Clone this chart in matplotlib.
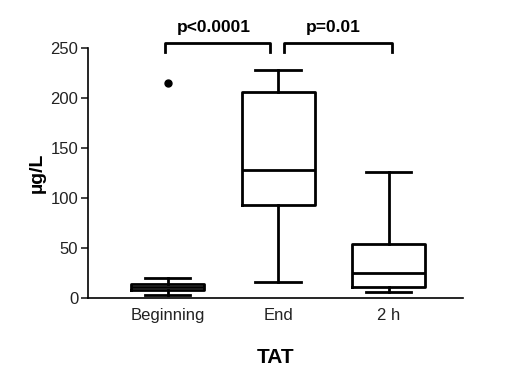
import matplotlib
matplotlib.use("Agg")
import matplotlib.pyplot as plt

plt.rcParams['font.family'] = ['Liberation Sans', 'DejaVu Sans']

groups = ["Beginning", "End", "2 h"]
whislo = [3, 16, 6]
q1 = [8, 93, 11]
med = [11, 128, 25]
q3 = [14, 206, 54]
whishi = [20, 228, 126]
fliers = [[215], [], []]

# comparisons: (left group, right group, label)
pairs = [(0, 1, "p<0.0001"), (1, 2, "p=0.01")]

stats = []
for i, g in enumerate(groups):
    stats.append(dict(label=g, whislo=whislo[i], q1=q1[i], med=med[i],
                      q3=q3[i], whishi=whishi[i], fliers=fliers[i]))

fig = plt.figure(figsize=(5.2, 3.85), dpi=100)
ax = fig.add_axes([0.169, 0.226, 0.721, 0.649])

lw = 2.0
ax.bxp(stats, positions=range(len(groups)), widths=0.66,
       boxprops=dict(color='black', linewidth=lw),
       medianprops=dict(color='black', linewidth=lw),
       whiskerprops=dict(color='black', linewidth=lw),
       capprops=dict(color='black', linewidth=lw),
       capwidths=0.41,
       flierprops=dict(marker='o', markerfacecolor='black',
                       markeredgecolor='black', markersize=5))

ax.set_xlim(-0.72, 2.67)
ax.set_ylim(0, 250)
ax.set_yticks([0, 50, 100, 150, 200, 250])
ax.set_xticks(range(len(groups)))
ax.set_xticklabels(groups)
ax.tick_params(axis='x', length=0, pad=7, labelsize=12, colors='#222222')
ax.tick_params(axis='y', length=5, width=1.2, pad=2, labelsize=12, colors='#222222')
for s in ['top', 'right']:
    ax.spines[s].set_visible(False)
for s in ['left', 'bottom']:
    ax.spines[s].set_linewidth(1.2)

ax.set_ylabel("µg/L", fontsize=14, fontweight='bold', labelpad=3)
ax.set_xlabel("TAT", fontsize=15, fontweight='bold', labelpad=18)

# significance brackets
offs = [(-0.02, -0.07), (0.05, 0.03)]
for (a, b, lab), (oa, ob) in zip(pairs, offs):
    x0, x1 = a + oa, b + ob
    ax.plot([x0, x0, x1, x1], [246, 255, 255, 246], color='black',
            linewidth=lw, clip_on=False)
    ax.text((x0 + x1) / 2 - 0.04, 263, lab, ha='center', va='bottom',
            fontsize=12.5, fontweight='bold')

fig.savefig("out.png", dpi=100)
